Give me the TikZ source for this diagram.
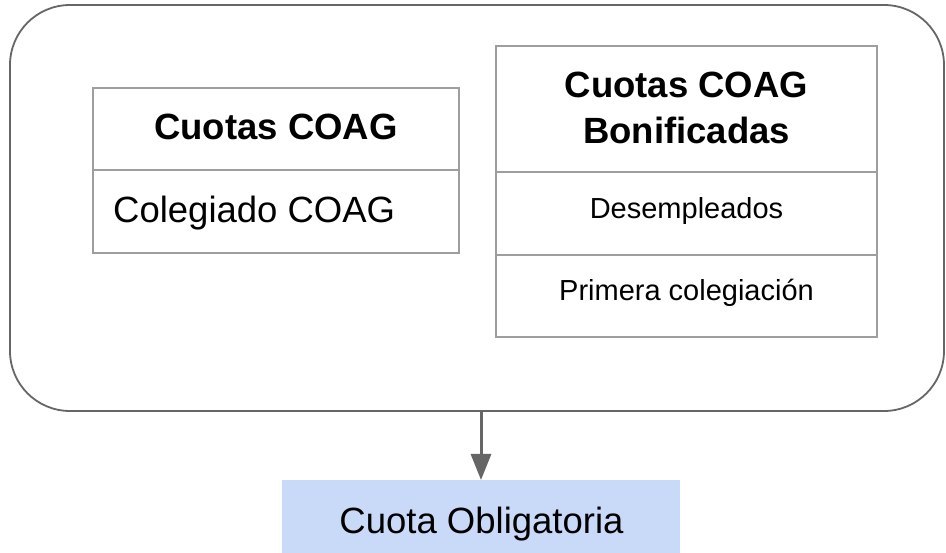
\documentclass[tikz,border=0pt]{standalone}
\usepackage{fontspec}
\setmainfont{Liberation Sans}
\usetikzlibrary{arrows.meta}
\definecolor{framegray}{HTML}{666666}
\definecolor{cellgray}{HTML}{9E9E9E}
\definecolor{boxblue}{HTML}{C9DAF8}
\begin{document}
\begin{tikzpicture}[x=1pt,y=-1pt,
  frame/.style={draw=framegray, line width=1.8pt, rounded corners=60pt, inner sep=0pt, outer sep=0pt, anchor=north west},
  cell/.style={draw=cellgray, line width=1.3pt, inner sep=0pt, outer sep=0pt, anchor=north west},
  headtxt/.style={font=\fontsize{36.5}{44}\selectfont\bfseries, inner sep=0pt, anchor=base},
  bigtxt/.style={font=\fontsize{36.5}{44}\selectfont, inner sep=0pt},
  smalltxt/.style={font=\fontsize{29}{35}\selectfont, inner sep=0pt, anchor=base},
  outbox/.style={fill=boxblue, draw=none, inner sep=0pt, outer sep=0pt, anchor=north west},
  link/.style={draw=framegray, line width=3pt, -{Triangle[width=20pt,length=26pt]}}
]
\useasboundingbox (0,0) rectangle (946,553);
\fill[white] (0,0) rectangle (946,553);

% outer rounded group
\node[frame, minimum width=934pt, minimum height=406pt] (group) at (10,5) {};

% left table
\node[cell, minimum width=366pt, minimum height=82pt] (lhead) at (93,88) {};
\node[cell, minimum width=366pt, minimum height=83pt] (lbody) at (93,170) {};
\node[headtxt] (lheadtxt) at (276,140) {Cuotas COAG};
\node[bigtxt, anchor=base west] (lbodytxt) at (113,223) {Colegiado COAG};

% right table
\node[cell, minimum width=381pt, minimum height=126pt] (rhead) at (496,46) {};
\node[cell, minimum width=381pt, minimum height=83pt] (rrow1) at (496,172) {};
\node[cell, minimum width=381pt, minimum height=82pt] (rrow2) at (496,255) {};
\node[headtxt] (rheadtxtA) at (686.5,97.5) {Cuotas COAG};
\node[headtxt] (rheadtxtB) at (686.5,144) {Bonificadas};
\node[smalltxt] (rrow1txt) at (686.5,219) {Desempleados};
\node[smalltxt] (rrow2txt) at (686.5,301) {Primera colegiación};

% output box
\node[outbox, minimum width=398pt, minimum height=75pt] (out) at (282,480) {};
\node[bigtxt, anchor=base] (outtxt) at (481.5,533) {Cuota Obligatoria};

% connector
\draw[link] (out.north |- group.south) -- (out.north);
\end{tikzpicture}
\end{document}
